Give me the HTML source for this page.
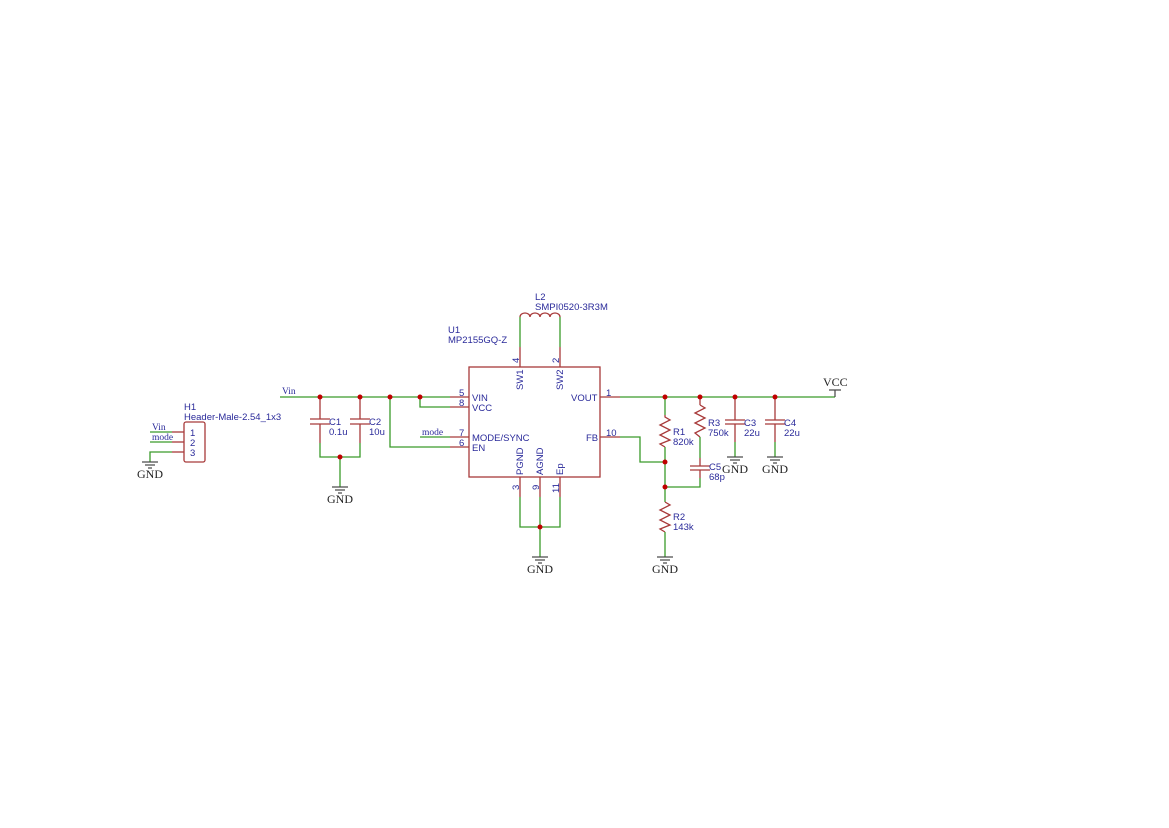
<!DOCTYPE html>
<html><head><meta charset="utf-8"><style>
html,body{margin:0;padding:0;background:#fff}
svg{display:block}
.w{stroke:#3a9a2a;stroke-width:1.3;fill:none}
.r{stroke:#a83a3a;stroke-width:1.3;fill:none}
.g{stroke:#444;stroke-width:1.2;fill:none}
.t{font-family:"Liberation Sans",sans-serif;font-size:9.5px;fill:#2a2a9a}
.s{font-family:"Liberation Serif",serif;font-size:12px;fill:#222}
.l{font-family:"Liberation Serif",serif;font-size:9.5px;fill:#2a2a9a}
</style></head><body>
<svg width="1169" height="828" viewBox="0 0 1169 828" xmlns="http://www.w3.org/2000/svg">
<defs>
<g id="gnd"><line class="g" x1="0" y1="0" x2="0" y2="0"/><line class="g" x1="-8" y1="0" x2="8" y2="0"/><line class="g" x1="-5" y1="3" x2="5" y2="3"/><line class="g" x1="-2" y1="6" x2="2" y2="6"/></g>
</defs>
<!-- Header H1 -->
<text class="t" x="184" y="410">H1</text>
<text class="t" x="184" y="420">Header-Male-2.54_1x3</text>
<rect class="r" x="184" y="422" width="21" height="40" rx="2"/>
<text class="t" x="190" y="436">1</text><text class="t" x="190" y="446">2</text><text class="t" x="190" y="456">3</text>
<line class="w" x1="150" y1="432" x2="172" y2="432"/><line class="r" x1="172" y1="432" x2="184" y2="432"/>
<line class="w" x1="150" y1="442" x2="172" y2="442"/><line class="r" x1="172" y1="442" x2="184" y2="442"/>
<polyline class="w" points="150,462 150,452 172,452"/><line class="r" x1="172" y1="452" x2="184" y2="452"/>
<text class="l" x="152" y="430">Vin</text><text class="l" x="152" y="440">mode</text>
<use href="#gnd" x="150" y="462"/><text class="s" x="137" y="478">GND</text>

<!-- Vin net -->
<line class="w" x1="280" y1="397" x2="450" y2="397"/>
<text class="l" x="282" y="394">Vin</text>
<polyline class="w" points="420,397 420,407 450,407"/>
<polyline class="w" points="390,397 390,447 450,447"/>
<line class="w" x1="420" y1="437" x2="450" y2="437"/>
<text class="l" x="422" y="435">mode</text>
<!-- C1 C2 -->
<line class="r" x1="320" y1="397" x2="320" y2="419"/><line class="r" x1="310" y1="419" x2="330" y2="419"/><line class="r" x1="310" y1="424" x2="330" y2="424"/><line class="r" x1="320" y1="424" x2="320" y2="443"/>
<line class="r" x1="360" y1="397" x2="360" y2="419"/><line class="r" x1="350" y1="419" x2="370" y2="419"/><line class="r" x1="350" y1="424" x2="370" y2="424"/><line class="r" x1="360" y1="424" x2="360" y2="443"/>
<polyline class="w" points="320,443 320,457 360,457 360,443"/>
<line class="w" x1="340" y1="457" x2="340" y2="487"/>
<use href="#gnd" x="340" y="487"/><text class="s" x="327" y="503">GND</text>
<text class="t" x="329" y="425">C1</text><text class="t" x="329" y="435">0.1u</text>
<text class="t" x="369" y="425">C2</text><text class="t" x="369" y="435">10u</text>

<!-- IC -->
<rect class="r" x="469" y="367" width="131" height="110"/>
<text class="t" x="448" y="333">U1</text><text class="t" x="448" y="343">MP2155GQ-Z</text>
<line class="r" x1="450" y1="397" x2="469" y2="397"/><line class="r" x1="450" y1="407" x2="469" y2="407"/>
<line class="r" x1="450" y1="437" x2="469" y2="437"/><line class="r" x1="450" y1="447" x2="469" y2="447"/>
<text class="t" x="459" y="396">5</text><text class="t" x="459" y="406">8</text><text class="t" x="459" y="436">7</text><text class="t" x="459" y="446">6</text>
<text class="t" x="472" y="401">VIN</text><text class="t" x="472" y="411">VCC</text><text class="t" x="472" y="441">MODE/SYNC</text><text class="t" x="472" y="451">EN</text>
<text class="t" x="571" y="401">VOUT</text><text class="t" x="586" y="441">FB</text>
<line class="r" x1="600" y1="397" x2="620" y2="397"/><line class="r" x1="600" y1="437" x2="620" y2="437"/>
<text class="t" x="606" y="396">1</text><text class="t" x="606" y="436">10</text>
<!-- top pins -->
<line class="r" x1="520" y1="347" x2="520" y2="367"/><line class="r" x1="560" y1="347" x2="560" y2="367"/>
<text class="t" transform="translate(519,363) rotate(-90)">4</text>
<text class="t" transform="translate(559,363) rotate(-90)">2</text>
<text class="t" transform="translate(523,390) rotate(-90)">SW1</text>
<text class="t" transform="translate(563,390) rotate(-90)">SW2</text>
<line class="w" x1="520" y1="317" x2="520" y2="347"/><line class="w" x1="560" y1="317" x2="560" y2="347"/>
<path class="r" d="M520,317 a5,4 0 0 1 10,0 a5,4 0 0 1 10,0 a5,4 0 0 1 10,0 a5,4 0 0 1 10,0"/>
<text class="t" x="535" y="300">L2</text><text class="t" x="535" y="310">SMPI0520-3R3M</text>
<!-- bottom pins -->
<line class="r" x1="520" y1="477" x2="520" y2="497"/><line class="r" x1="540" y1="477" x2="540" y2="497"/><line class="r" x1="560" y1="477" x2="560" y2="497"/>
<text class="t" transform="translate(523,475) rotate(-90)">PGND</text>
<text class="t" transform="translate(543,475) rotate(-90)">AGND</text>
<text class="t" transform="translate(563,475) rotate(-90)">Ep</text>
<text class="t" transform="translate(519,490) rotate(-90)">3</text>
<text class="t" transform="translate(539,490) rotate(-90)">9</text>
<text class="t" transform="translate(559,493) rotate(-90)">11</text>
<polyline class="w" points="520,497 520,527 560,527 560,497"/>
<line class="w" x1="540" y1="497" x2="540" y2="557"/>
<use href="#gnd" x="540" y="557"/><text class="s" x="527" y="573">GND</text>

<!-- output -->
<line class="w" x1="620" y1="397" x2="835" y2="397"/>
<line class="g" x1="835" y1="397" x2="835" y2="390"/><line class="g" x1="829" y1="390" x2="841" y2="390"/>
<text class="s" x="823" y="386">VCC</text>
<polyline class="w" points="620,437 640,437 640,462 665,462"/>
<!-- R1 -->
<line class="w" x1="665" y1="397" x2="665" y2="415"/>
<polyline class="r" points="665,415 665,417 670,420 660,425 670,430 660,435 670,440 660,444 665,447"/>
<line class="w" x1="665" y1="447" x2="665" y2="502"/>
<text class="t" x="673" y="435">R1</text><text class="t" x="673" y="445">820k</text>
<!-- R3 + C5 -->
<line class="r" x1="700" y1="397" x2="700" y2="405"/>
<polyline class="r" points="700,405 705,408 695,413 705,418 695,423 705,428 695,433 700,437"/>
<line class="w" x1="700" y1="437" x2="700" y2="458"/>
<line class="r" x1="700" y1="458" x2="700" y2="466"/><line class="r" x1="690" y1="466" x2="710" y2="466"/><line class="r" x1="690" y1="470" x2="710" y2="470"/><line class="r" x1="700" y1="470" x2="700" y2="478"/>
<polyline class="w" points="700,478 700,487 665,487"/>
<text class="t" x="708" y="426">R3</text><text class="t" x="708" y="436">750k</text>
<text class="t" x="709" y="470">C5</text><text class="t" x="709" y="480">68p</text>
<!-- R2 -->
<polyline class="r" points="665,502 670,505 660,510 670,515 660,520 670,525 660,529 665,532"/>
<line class="w" x1="665" y1="532" x2="665" y2="557"/>
<use href="#gnd" x="665" y="557"/><text class="s" x="652" y="573">GND</text>
<text class="t" x="673" y="520">R2</text><text class="t" x="673" y="530">143k</text>
<!-- C3 C4 -->
<line class="r" x1="735" y1="397" x2="735" y2="420"/><line class="r" x1="725" y1="420" x2="745" y2="420"/><line class="r" x1="725" y1="424" x2="745" y2="424"/><line class="r" x1="735" y1="424" x2="735" y2="442"/>
<line class="w" x1="735" y1="442" x2="735" y2="457"/><use href="#gnd" x="735" y="457"/><text class="s" x="722" y="473">GND</text>
<text class="t" x="744" y="426">C3</text><text class="t" x="744" y="436">22u</text>
<line class="r" x1="775" y1="397" x2="775" y2="420"/><line class="r" x1="765" y1="420" x2="785" y2="420"/><line class="r" x1="765" y1="424" x2="785" y2="424"/><line class="r" x1="775" y1="424" x2="775" y2="442"/>
<line class="w" x1="775" y1="442" x2="775" y2="457"/><use href="#gnd" x="775" y="457"/><text class="s" x="762" y="473">GND</text>
<text class="t" x="784" y="426">C4</text><text class="t" x="784" y="436">22u</text>

<!-- junction dots -->
<g fill="#c00000">
<circle cx="320" cy="397" r="2.5"/><circle cx="360" cy="397" r="2.5"/><circle cx="390" cy="397" r="2.5"/><circle cx="420" cy="397" r="2.5"/>
<circle cx="340" cy="457" r="2.5"/><circle cx="540" cy="527" r="2.5"/>
<circle cx="665" cy="397" r="2.5"/><circle cx="700" cy="397" r="2.5"/><circle cx="735" cy="397" r="2.5"/><circle cx="775" cy="397" r="2.5"/>
<circle cx="665" cy="462" r="2.5"/><circle cx="665" cy="487" r="2.5"/>
</g>
</svg>
</body></html>
